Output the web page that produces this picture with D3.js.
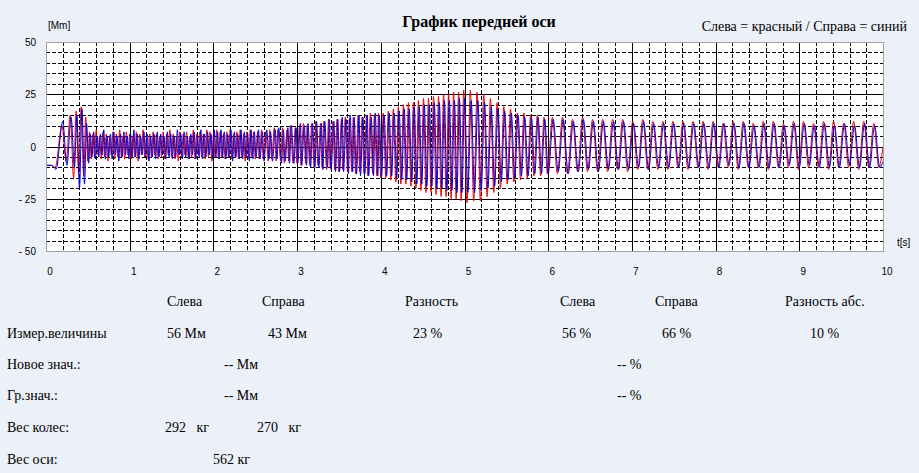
<html>
<head>
<meta charset="utf-8" />
<title>График передней оси</title>
<script src="https://d3js.org/d3.v7.min.js"></script>
<style>
  body {
    margin: 0;
    background: #ecf0f9;
  }

  text.tick {
    font-family: "Liberation Sans", Arial, sans-serif;
    font-size: 10px;
  }

  text.serif {
    font-family: "Liberation Serif", "Times New Roman", serif;
    font-size: 14px;
    white-space: pre;
  }

  .grid line {
    stroke: #000;
    stroke-width: 1;
    shape-rendering: crispEdges;
  }

  .grid line.minor {
    stroke-dasharray: 4,2;
  }

  path.trace {
    fill: none;
    stroke-width: 1;
  }
</style>
</head>
<body>
<script>
// times of the turning points of the trace, seconds
var tSec = [
  0, 0.06, 0.11, 0.19, 0.24, 0.29, 0.33, 0.36, 0.39, 0.42, 0.45, 0.475, 0.5,
  0.52, 0.54, 0.56, 0.58, 0.6, 0.62, 0.64, 0.66, 0.68, 0.7, 0.72, 0.74, 0.76, 0.78, 0.8, 0.82, 0.84, 0.86, 0.88, 0.9,
  0.92, 0.94, 0.96, 0.98, 1.0, 1.02, 1.04, 1.06, 1.08, 1.1, 1.12, 1.14, 1.16, 1.18, 1.2, 1.22, 1.24, 1.26, 1.28, 1.3,
  1.32, 1.34, 1.36, 1.38, 1.4, 1.42, 1.44, 1.46, 1.48, 1.5, 1.52, 1.54, 1.56, 1.58, 1.6, 1.62, 1.64, 1.66, 1.68, 1.7,
  1.72, 1.74, 1.76, 1.78, 1.8, 1.82, 1.84, 1.86, 1.88, 1.9, 1.92, 1.94, 1.96, 1.98, 2.0, 2.02, 2.04, 2.06, 2.08, 2.1,
  2.12, 2.14, 2.16, 2.18, 2.2, 2.22, 2.24, 2.26, 2.28, 2.3, 2.32, 2.34, 2.36, 2.38, 2.4, 2.42, 2.44, 2.46, 2.48, 2.5,
  2.529, 2.547, 2.576, 2.595, 2.627, 2.655, 2.673, 2.696, 2.728, 2.75, 2.77, 2.804, 2.826, 2.847, 2.88, 2.899, 2.921, 2.952, 2.978, 2.998,
  3.03, 3.046, 3.076, 3.103, 3.12, 3.152, 3.174, 3.204, 3.222, 3.25, 3.28, 3.298, 3.32, 3.353, 3.376, 3.396, 3.429, 3.449, 3.477, 3.497,
  3.53, 3.545, 3.576, 3.603, 3.623, 3.654, 3.671, 3.7, 3.73, 3.747, 3.777, 3.799, 3.829, 3.845, 3.876, 3.903, 3.923, 3.954, 3.972, 4.0,
  4.03, 4.06, 4.09, 4.12, 4.15, 4.18, 4.21, 4.24, 4.27, 4.3, 4.33, 4.36, 4.39, 4.42, 4.45, 4.48, 4.51, 4.54, 4.57, 4.6,
  4.63, 4.66, 4.69, 4.72, 4.75, 4.78, 4.81, 4.84, 4.87, 4.9, 4.93, 4.96, 4.99,
  5.03, 5.07, 5.11, 5.15, 5.19, 5.23, 5.27, 5.31, 5.35, 5.39, 5.43, 5.47, 5.51, 5.55, 5.59, 5.63, 5.67, 5.71, 5.75, 5.79,
  5.83, 5.87, 5.91, 5.95, 5.99,
  6.05, 6.11, 6.17, 6.23, 6.29, 6.35, 6.41, 6.47, 6.53, 6.59, 6.65, 6.71, 6.77, 6.83, 6.89, 6.95, 7.01, 7.07, 7.13, 7.19,
  7.25, 7.31, 7.37, 7.43, 7.49, 7.55, 7.61, 7.67, 7.73, 7.79, 7.85, 7.91, 7.97, 8.03, 8.09, 8.15, 8.21, 8.27, 8.33, 8.39,
  8.45, 8.51, 8.57, 8.63, 8.69, 8.75, 8.81, 8.87, 8.93, 8.99, 9.05, 9.11, 9.17, 9.23, 9.29, 9.35, 9.41, 9.47, 9.53, 9.59,
  9.65, 9.71, 9.77, 9.83, 9.89, 9.95, 10.0
];

// left wheel (red), Mm
var leftMm = [
  -9, -9, -10, 10, -7, 15, -15, 17, -13, 19, -14, 14, -7,
  7, -6, 6, -5, 8, -4, 5, -6, 7, -5, 6, -7, 5, -4, 7, -6, 6, -5, 8, -5,
  5, -6, 7, -4, 6, -6, 5, -5, 7, -7, 6, -4, 8, -5, 5, -6, 6, -5, 7, -4,
  6, -6, 5, -5, 7, -6, 6, -4, 8, -5, 6, -6, 5, -7, 7, -5, 6, -4, 7, -6,
  5, -5, 8, -6, 6, -4, 7, -5, 6, -6, 8, -5, 7, -7, 6, -5, 8, -6, 7, -5,
  6, -6, 7, -5, 8, -6, 6, -5, 7, -6, 8, -5, 6, -7, 7, -6, 8, -5, 7, -6,
  7, -6, 8, -6, 7, -7, 8, -6, 9, -7, 8, -7, 9, -8, 8, -7, 10, -8, 9, -8,
  10, -9, 11, -8, 10, -9, 11, -10, 12, -9, 11, -10, 12, -11, 13, -10, 12, -11, 13, -12,
  13, -11, 14, -12, 13, -12, 14, -13, 15, -12, 14, -13, 15, -14, 16, -13, 15, -14, 16, -15,
  16, -15, 17, -16, 18, -17, 19, -18, 20, -18, 21, -19, 21, -20, 22, -21, 23, -22, 23, -22,
  24, -23, 24, -24, 25, -24, 25, -25, 26, -25, 26, -26, 27,
  -27, 27, -26, 26, -26, 25, -24, 23, -22, 21, -20, 19, -18, 18, -17, 16, -16, 16, -15, 15,
  -14, 15, -14, 14, -13,
  14, -13, 14, -13, 13, -12, 14, -12, 13, -12, 13, -12, 13, -11, 13, -12, 12, -11, 13, -11,
  12, -11, 12, -11, 12, -10, 12, -11, 12, -10, 12, -11, 12, -10, 11, -10, 12, -11, 12, -10,
  11, -10, 12, -11, 12, -10, 11, -10, 12, -11, 12, -10, 11, -10, 12, -11, 12, -10, 11, -10,
  12, -11, 12, -10, 11, -10, 0
];

// right wheel (blue), Mm
var rightMm = [
  -9, -9, -11, 12, -9, 14, -10, 15, -20, 18, -18, 11, -8,
  6, -5, 7, -6, 5, -5, 6, -4, 8, -6, 5, -5, 6, -6, 7, -4, 5, -7, 6, -5,
  7, -4, 5, -6, 6, -5, 8, -5, 6, -6, 5, -4, 7, -5, 6, -7, 5, -5, 6, -6,
  7, -5, 6, -4, 5, -6, 7, -5, 6, -6, 5, -5, 8, -4, 6, -6, 7, -5, 5, -6,
  6, -4, 7, -6, 5, -5, 8, -6, 6, -5, 7, -4, 6, -6, 8, -5, 7, -6, 8, -5,
  7, -6, 6, -5, 8, -7, 7, -5, 6, -6, 8, -6, 7, -5, 6, -7, 8, -6, 7, -5,
  8, -6, 7, -7, 8, -6, 7, -7, 8, -6, 9, -8, 8, -7, 9, -8, 10, -8, 9, -8,
  11, -9, 10, -9, 11, -10, 11, -10, 12, -10, 11, -11, 12, -10, 13, -11, 12, -12, 13, -12,
  14, -12, 13, -13, 15, -12, 14, -13, 15, -14, 14, -13, 15, -14, 14, -14, 16, -14, 15, -14,
  15, -14, 16, -14, 16, -15, 17, -16, 18, -16, 18, -17, 19, -18, 19, -18, 20, -19, 20, -19,
  21, -20, 21, -20, 22, -21, 22, -21, 22, -22, 23, -22, 23,
  -22, 22, -22, 22, -21, 21, -20, 19, -19, 18, -17, 17, -16, 16, -15, 15, -14, 14, -14, 14,
  -13, 14, -13, 13, -13,
  13, -12, 13, -13, 12, -12, 13, -11, 12, -12, 12, -11, 12, -11, 12, -11, 11, -10, 12, -11,
  11, -10, 11, -10, 11, -10, 11, -10, 11, -10, 11, -10, 11, -10, 11, -9, 11, -10, 11, -10,
  10, -10, 11, -10, 11, -10, 10, -9, 11, -10, 11, -9, 10, -10, 11, -10, 10, -10, 11, -9,
  10, -10, 11, -10, 10, -10, -6
];
var rightLag = 0.01; // right trace trails the left one slightly

var yTicks = [50, 25, 0, -25, -50];
var xTicks = [0, 1, 2, 3, 4, 5, 6, 7, 8, 9, 10];

// result table
var colHeads = ["Слева", "Справа", "Разность", "Слева", "Справа", "Разность абс."];
var rowLabels = ["Измер.величины", "Новое знач.:", "Гр.знач.:", "Вес колес:", "Вес оси:"];
var measured = ["56 Мм", "43 Мм", "23 %", "56 %", "66 %", "10 %"];
var newValues = ["-- Мм", "-- %"];
var limitValues = ["-- Мм", "-- %"];
var wheelWeights = ["292   кг", "270   кг"];
var axleWeight = ["562 кг"];

var width = 919,
    height = 473,
    plot = {left: 46, top: 42, right: 883, bottom: 251};

var svg = d3.select("body").append("svg")
    .attr("width", width)
    .attr("height", height);

var x = d3.scaleLinear().domain([0, 10]).range([plot.left, plot.right]),
    y = d3.scaleLinear().domain([-50, 50]).range([plot.bottom, plot.top]);

function px(v) { return Math.round(v) + 0.5; }

// white plot area
svg.append("rect")
    .attr("x", plot.left + 0.5)
    .attr("y", plot.top + 0.5)
    .attr("width", plot.right - plot.left)
    .attr("height", plot.bottom - plot.top)
    .attr("fill", "#fff");

// grid: solid every second / 25 Mm, dashed every 0.2 s / 5 Mm
var grid = svg.append("g").attr("class", "grid");

grid.selectAll(".vl")
    .data(d3.range(1, 50))
  .enter().append("line")
    .attr("class", function(d) { return d % 5 ? "minor" : "major"; })
    .attr("x1", function(d) { return px(x(d / 5)); })
    .attr("x2", function(d) { return px(x(d / 5)); })
    .attr("y1", plot.top)
    .attr("y2", plot.bottom);

grid.selectAll(".hl")
    .data(d3.range(-9, 10))
  .enter().append("line")
    .attr("class", function(d) { return d % 5 ? "minor" : "major"; })
    .attr("x1", plot.left)
    .attr("x2", plot.right)
    .attr("y1", function(d) { return px(y(d * 5)); })
    .attr("y2", function(d) { return px(y(d * 5)); });

svg.append("clipPath")
    .attr("id", "clip")
  .append("rect")
    .attr("x", plot.left)
    .attr("y", plot.top)
    .attr("width", plot.right - plot.left)
    .attr("height", plot.bottom - plot.top);

var n = Math.min(tSec.length, leftMm.length, rightMm.length);
var left = d3.range(n).map(function(i) { return [tSec[i], leftMm[i]]; }),
    right = d3.range(n).map(function(i) { return [tSec[i] + rightLag, rightMm[i]]; });

var line = d3.line()
    .x(function(d) { return x(d[0]); })
    .y(function(d) { return y(d[1]); })
    .curve(d3.curveMonotoneX);

var traces = svg.append("g").attr("clip-path", "url(#clip)");

traces.append("path")
    .datum(left)
    .attr("class", "trace")
    .attr("stroke", "#ee0000")
    .attr("d", line);

traces.append("path")
    .datum(right)
    .attr("class", "trace")
    .attr("stroke", "#0000dd")
    .attr("d", line);

// frame
svg.append("rect")
    .attr("x", plot.left + 0.5)
    .attr("y", plot.top + 0.5)
    .attr("width", plot.right - plot.left)
    .attr("height", plot.bottom - plot.top)
    .attr("fill", "none")
    .attr("stroke", "#a0a0a0");

// axis labels
svg.selectAll(".ylab")
    .data(yTicks)
  .enter().append("text")
    .attr("class", "tick")
    .attr("x", plot.left - 10)
    .attr("y", function(d) { return y(d) + 4; })
    .attr("text-anchor", "end")
    .text(function(d) { return d < 0 ? "- " + (-d) : d; });

svg.selectAll(".xlab")
    .data(xTicks)
  .enter().append("text")
    .attr("class", "tick")
    .attr("x", function(d) { return x(d) + 4; })
    .attr("y", 275)
    .attr("text-anchor", "middle")
    .text(function(d) { return d; });

svg.append("text")
    .attr("class", "tick")
    .attr("x", 48)
    .attr("y", 29)
    .text("[Mm]");

svg.append("text")
    .attr("class", "tick")
    .attr("x", 897)
    .attr("y", 246)
    .text("t[s]");

svg.append("text")
    .attr("class", "serif")
    .attr("x", 479)
    .attr("y", 27)
    .attr("text-anchor", "middle")
    .style("font-size", "16px")
    .style("font-weight", "bold")
    .text("График передней оси");

svg.append("text")
    .attr("class", "serif")
    .attr("x", 907)
    .attr("y", 31)
    .attr("text-anchor", "end")
    .text("Слева = красный / Справа = синий");

// table
var rowY = [306, 338, 369, 400, 432, 464];

function cells(items, xs, ys) {
  svg.append("g").selectAll("text")
      .data(items)
    .enter().append("text")
      .attr("class", "serif")
      .attr("x", function(d, i) { return xs[i]; })
      .attr("y", function(d, i) { return Array.isArray(ys) ? ys[i] : ys; })
      .text(function(d) { return d; });
}

cells(colHeads, [167, 262, 405, 560, 655, 785], rowY[0]);
cells(rowLabels, [7, 7, 7, 7, 7], rowY.slice(1));
cells(measured, [167, 268, 413, 562, 662, 810], rowY[1]);
cells(newValues, [224, 617], rowY[2]);
cells(limitValues, [224, 617], rowY[3]);
cells(wheelWeights, [165, 257], rowY[4]);
cells(axleWeight, [213], rowY[5]);
</script>
</body>
</html>
